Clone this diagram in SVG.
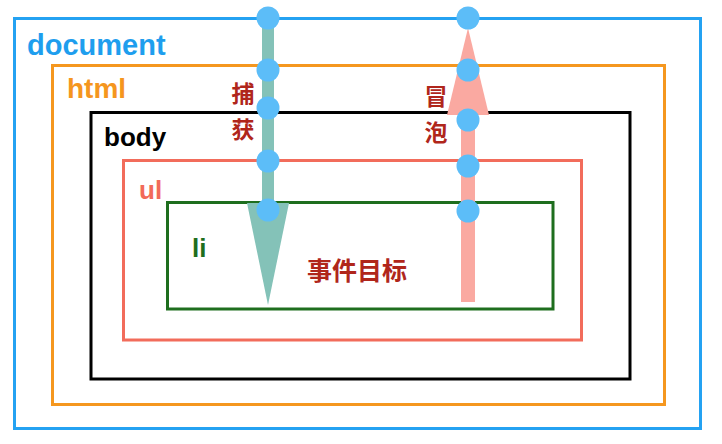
<svg xmlns="http://www.w3.org/2000/svg" width="722" height="444" viewBox="0 0 722 444">
<style>
.box{fill:none;stroke-width:3}
.lbl{font-family:"Liberation Sans",Arial,sans-serif;font-weight:bold}
.cjk{font-family:"Noto Sans CJK SC",sans-serif;font-weight:bold;fill:#b0261b}
.dot{fill:#5cbdf8}
</style>
<rect width="722" height="444" fill="#ffffff"/>
<g id="document"><rect class="box" x="14.5" y="18.5" width="686" height="410" stroke="#24a2f2"/>
<text class="lbl" x="27" y="55" font-size="29" fill="#1e9eee">document</text></g>
<g id="html"><rect class="box" x="52.5" y="65.5" width="612" height="339" stroke="#f5971f"/>
<text class="lbl" x="67" y="98" font-size="28" fill="#f5961e">html</text></g>
<g id="body"><rect class="box" x="91" y="112.5" width="539" height="266.5" stroke="#000000"/>
<text class="lbl" x="104" y="146" font-size="26" fill="#000000">body</text></g>
<g id="ul"><rect class="box" x="123.5" y="160.5" width="458" height="179.5" stroke="#f26c5b"/>
<text class="lbl" x="139" y="199" font-size="26" fill="#f26b59">ul</text></g>
<g id="li"><rect class="box" x="167.5" y="202.5" width="385.5" height="106.5" stroke="#1e6e1e"/>
<text class="lbl" x="192" y="257" font-size="26" fill="#1e6e1e">li</text>
<text class="cjk" x="357" y="280" font-size="25" text-anchor="middle" font-weight="600">事件目标</text></g>
<g id="connectors">
<g id="capture">
<rect x="262" y="18" width="12" height="188" fill="#84c2b8"/>
<polygon points="247,203 289,203 268,305" fill="#84c2b8"/>
<text class="cjk" x="243" y="102" font-size="23" text-anchor="middle">捕</text>
<text class="cjk" x="243" y="138" font-size="23" text-anchor="middle">获</text>
</g>
<g id="bubble">
<rect x="461" y="100" width="14" height="202" fill="#faa9a1"/>
<polygon points="468,28 447,115 489,115" fill="#faa9a1"/>
<text class="cjk" x="436" y="105" font-size="23" text-anchor="middle">冒</text>
<text class="cjk" x="436" y="141" font-size="23" text-anchor="middle">泡</text>
</g>
<circle class="dot" cx="268" cy="18" r="11.5"/>
<circle class="dot" cx="268" cy="70" r="11.5"/>
<circle class="dot" cx="268" cy="108" r="11.5"/>
<circle class="dot" cx="268" cy="161" r="11.5"/>
<circle class="dot" cx="268" cy="210" r="11.5"/>
<circle class="dot" cx="468" cy="18" r="11.5"/>
<circle class="dot" cx="468" cy="70" r="11.5"/>
<circle class="dot" cx="468" cy="120" r="11.5"/>
<circle class="dot" cx="468" cy="166" r="11.5"/>
<circle class="dot" cx="468" cy="211" r="11.5"/>
</g>
</svg>
